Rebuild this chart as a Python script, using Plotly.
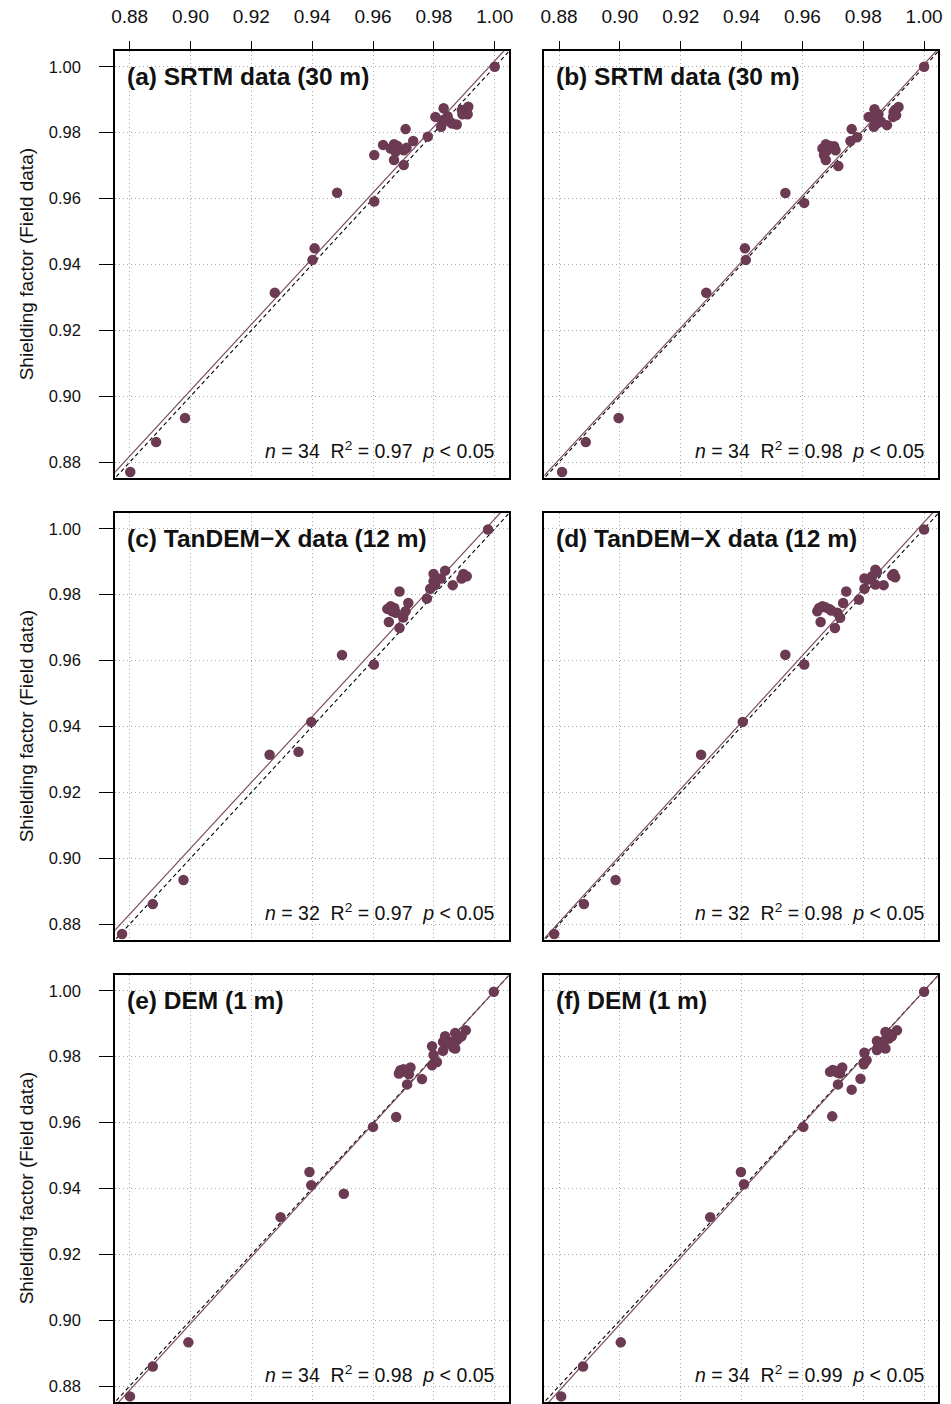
import plotly.graph_objects as go

# ---- data: model-derived shielding factor (x) vs. field-measured shielding factor (y) ----
a_model = [1.000, 0.9913, 0.9892, 0.9911, 0.9894, 0.9832, 0.9805, 0.9828, 0.9853, 0.9875,
           0.9824, 0.9780, 0.9707, 0.9732, 0.9633, 0.9669, 0.9658, 0.9674, 0.9701, 0.9604,
           0.9669, 0.9701, 0.9604, 0.9482, 0.9408, 0.9401, 0.9277, 0.8982, 0.8887, 0.8802,
           0.9680, 0.9845, 0.9860, 0.9710]
a_field = [1.000, 0.9879, 0.9869, 0.9856, 0.9856, 0.9874, 0.9848, 0.9838, 0.9833, 0.9825,
           0.9818, 0.9788, 0.9811, 0.9775, 0.9763, 0.9765, 0.9752, 0.9742, 0.9747, 0.9732,
           0.9717, 0.9702, 0.9591, 0.9618, 0.9449, 0.9414, 0.9314, 0.8934, 0.8861, 0.8770,
           0.9760, 0.9850, 0.9828, 0.9754]

b_model = [1.000, 0.9916, 0.9900, 0.9908, 0.9898, 0.9837, 0.9818, 0.9840, 0.9859, 0.9878,
           0.9835, 0.9780, 0.9762, 0.9758, 0.9677, 0.9704, 0.9666, 0.9709, 0.9671, 0.9677,
           0.9718, 0.9544, 0.9606, 0.9411, 0.9414, 0.9284, 0.8996, 0.8888, 0.8810,
           0.9690, 0.9680, 0.9850, 0.9845, 0.9905]
b_field = [1.000, 0.9878, 0.9863, 0.9853, 0.9848, 0.9871, 0.9848, 0.9838, 0.9833, 0.9823,
           0.9818, 0.9786, 0.9811, 0.9775, 0.9765, 0.9759, 0.9752, 0.9747, 0.9732, 0.9717,
           0.9699, 0.9617, 0.9587, 0.9449, 0.9414, 0.9314, 0.8934, 0.8861, 0.8770,
           0.9760, 0.9745, 0.9856, 0.9828, 0.9870]

c_model = [0.9978, 0.9837, 0.9799, 0.9823, 0.9799, 0.9804, 0.9788, 0.9897, 0.9908, 0.9891,
           0.9862, 0.9777, 0.9687, 0.9716, 0.9647, 0.9663, 0.9658, 0.9707, 0.9699, 0.9652,
           0.9687, 0.9498, 0.9603, 0.9397, 0.9260, 0.9355, 0.8977, 0.8876, 0.8775,
           0.9670, 0.9675, 0.9655]
c_field = [0.9998, 0.9873, 0.9863, 0.9849, 0.9841, 0.9829, 0.9818, 0.9863, 0.9856, 0.9849,
           0.9829, 0.9788, 0.9810, 0.9775, 0.9757, 0.9750, 0.9765, 0.9750, 0.9731, 0.9717,
           0.9699, 0.9617, 0.9588, 0.9414, 0.9314, 0.9323, 0.8934, 0.8861, 0.8770,
           0.9760, 0.9745, 0.9758]

d_model = [1.000, 0.9840, 0.9804, 0.9829, 0.9840, 0.9804, 0.9867, 0.9900, 0.9905, 0.9786,
           0.9744, 0.9734, 0.9655, 0.9666, 0.9688, 0.9649, 0.9715, 0.9724, 0.9660, 0.9707,
           0.9544, 0.9606, 0.9404, 0.9267, 0.8986, 0.8882, 0.8784,
           0.9675, 0.9695, 0.9845, 0.9815, 0.9895]
d_field = [0.9998, 0.9876, 0.9849, 0.9856, 0.9831, 0.9818, 0.9829, 0.9863, 0.9853, 0.9785,
           0.9810, 0.9775, 0.9760, 0.9765, 0.9757, 0.9750, 0.9745, 0.9730, 0.9717, 0.9699,
           0.9618, 0.9588, 0.9414, 0.9314, 0.8934, 0.8861, 0.8770,
           0.9762, 0.9752, 0.9868, 0.9846, 0.9858]

e_model = [0.9997, 0.9905, 0.9870, 0.9891, 0.9837, 0.9875, 0.9853, 0.9830, 0.9864, 0.9870,
           0.9794, 0.9830, 0.9799, 0.9810, 0.9794, 0.9723, 0.9690, 0.9707, 0.9685, 0.9718,
           0.9761, 0.9712, 0.9676, 0.9600, 0.9504, 0.9391, 0.9397, 0.9296, 0.8993, 0.8876,
           0.8801, 0.9700, 0.9845, 0.9880]
e_field = [0.9997, 0.9880, 0.9872, 0.9862, 0.9862, 0.9850, 0.9845, 0.9845, 0.9828, 0.9825,
           0.9832, 0.9818, 0.9805, 0.9784, 0.9774, 0.9767, 0.9759, 0.9754, 0.9749, 0.9747,
           0.9732, 0.9716, 0.9617, 0.9587, 0.9384, 0.9450, 0.9410, 0.9313, 0.8933, 0.8860,
           0.8769, 0.9762, 0.9840, 0.9855]

f_model = [1.000, 0.9911, 0.9873, 0.9894, 0.9884, 0.9845, 0.9867, 0.9856, 0.9873, 0.9845,
           0.9804, 0.9811, 0.9802, 0.9731, 0.9709, 0.9691, 0.9724, 0.9791, 0.9717, 0.9762,
           0.9698, 0.9603, 0.9398, 0.9408, 0.9297, 0.9003, 0.8879, 0.8807,
           0.9700, 0.9715, 0.9860, 0.9878, 0.9850, 0.9890]
f_field = [0.9997, 0.9880, 0.9875, 0.9862, 0.9855, 0.9848, 0.9845, 0.9832, 0.9825, 0.9820,
           0.9812, 0.9789, 0.9777, 0.9767, 0.9757, 0.9754, 0.9749, 0.9733, 0.9716, 0.9700,
           0.9619, 0.9587, 0.9450, 0.9413, 0.9313, 0.8933, 0.8860, 0.8769,
           0.9760, 0.9752, 0.9840, 0.9858, 0.9830, 0.9868]

panel_titles = ["(a) SRTM data (30 m)", "(b) SRTM data (30 m)",
                "(c) TanDEM\u2212X data (12 m)", "(d) TanDEM\u2212X data (12 m)",
                "(e) DEM (1 m)", "(f) DEM (1 m)"]
sample_n = [34, 34, 32, 32, 34, 34]
r_squared = ["0.97", "0.98", "0.97", "0.98", "0.98", "0.99"]
fit_slope = [1.000, 1.000, 1.000, 1.012, 1.010, 1.012]
fit_intercept = [0.0018, 0.0008, 0.0030, -0.0100, -0.0100, -0.0120]

tick_vals = [0.88, 0.90, 0.92, 0.94, 0.96, 0.98, 1.00]
tick_text = ["0.88", "0.90", "0.92", "0.94", "0.96", "0.98", "1.00"]
y_title = "Shielding factor (Field data)"

models = [a_model, b_model, c_model, d_model, e_model, f_model]
fields = [a_field, b_field, c_field, d_field, e_field, f_field]

# ---- layout geometry (pixels) ----
W, H = 951, 1404
col_px = [(112, 509), (545, 942)]
row_px = [(51, 478), (513, 940), (975, 1402)]
x_range = [0.8752, 1.0046]
y_range = [0.8752, 1.0048]

POINT = "#6c3a52"
FIT = "#7d4d60"
GRID = "#a8a8a8"
FONT = "Liberation Sans, Arial, sans-serif"

fig = go.Figure()
layout = dict(
    width=W, height=H, margin=dict(l=0, r=0, t=0, b=0),
    paper_bgcolor="white", plot_bgcolor="white", showlegend=False,
    font=dict(family=FONT, color="#111111"),
)
annotations = []

for k in range(6):
    r, c = divmod(k, 2)
    idx = k + 1
    xa = "x" if idx == 1 else f"x{idx}"
    ya = "y" if idx == 1 else f"y{idx}"
    x0, x1 = col_px[c]
    y0, y1 = row_px[r]

    layout["xaxis" if idx == 1 else f"xaxis{idx}"] = dict(
        domain=[x0 / W, x1 / W], range=x_range, anchor=ya,
        side="top", tickvals=tick_vals, ticktext=tick_text,
        ticks="outside" if r == 0 else "", ticklen=8, tickwidth=1.3, tickcolor="black",
        showticklabels=(r == 0), tickfont=dict(size=19, color="#111111"),
        ticklabelstandoff=11,
        showline=True, mirror=True, linecolor="black", linewidth=1.8,
        showgrid=True, gridcolor=GRID, griddash="1px,3px", gridwidth=1,
        zeroline=False,
    )
    layout["yaxis" if idx == 1 else f"yaxis{idx}"] = dict(
        domain=[1 - y1 / H, 1 - y0 / H], range=y_range, anchor=xa,
        tickvals=tick_vals, ticktext=tick_text,
        ticks="outside" if c == 0 else "", ticklen=14, tickwidth=1.3, tickcolor="black",
        showticklabels=(c == 0), tickfont=dict(size=16.5, color="#111111"),
        ticklabelstandoff=15,
        showline=True, mirror=True, linecolor="black", linewidth=1.8,
        showgrid=True, gridcolor=GRID, griddash="1px,3px", gridwidth=1,
        zeroline=False,
    )

    # 1:1 reference line
    fig.add_trace(go.Scatter(
        x=[0.86, 1.02], y=[0.86, 1.02], mode="lines", xaxis=xa, yaxis=ya,
        line=dict(color="black", width=1.1, dash="4px,3px"), hoverinfo="skip"))
    # fitted regression line
    lx = [0.86, 1.02]
    ly = [fit_slope[k] * v + fit_intercept[k] for v in lx]
    fig.add_trace(go.Scatter(
        x=lx, y=ly, mode="lines", xaxis=xa, yaxis=ya,
        line=dict(color=FIT, width=1.2), hoverinfo="skip"))
    # sample points
    fig.add_trace(go.Scatter(
        x=models[k], y=fields[k], mode="markers", xaxis=xa, yaxis=ya,
        marker=dict(color=POINT, size=10.5, line=dict(width=0))))

    annotations.append(dict(
        x=0.8785, y=0.9972, xref=xa, yref=ya, xanchor="left", yanchor="middle",
        text=f"<b>{panel_titles[k]}</b>", showarrow=False,
        font=dict(size=24.5, color="#111111", family=FONT)))
    nb = "\u00a0"
    annotations.append(dict(
        x=1.0008, y=0.8836, xref=xa, yref=ya, xanchor="right", yanchor="middle",
        text=(f"<i>n</i> = {sample_n[k]}{nb}{nb}R<sup>2</sup> = {r_squared[k]}"
              f"{nb}{nb}<i>p</i> &lt; 0.05"),
        showarrow=False, font=dict(size=19.5, color="#111111", family=FONT)))

for r in range(3):
    y0, y1 = row_px[r]
    annotations.append(dict(
        x=23 / W, y=1 - (y0 + y1) / 2 / H, xref="paper", yref="paper",
        xanchor="center", yanchor="middle", textangle=-90, text=y_title,
        showarrow=False, font=dict(size=19, color="#111111", family=FONT)))

layout["annotations"] = annotations
fig.update_layout(**layout)
fig.write_html("out.html")
